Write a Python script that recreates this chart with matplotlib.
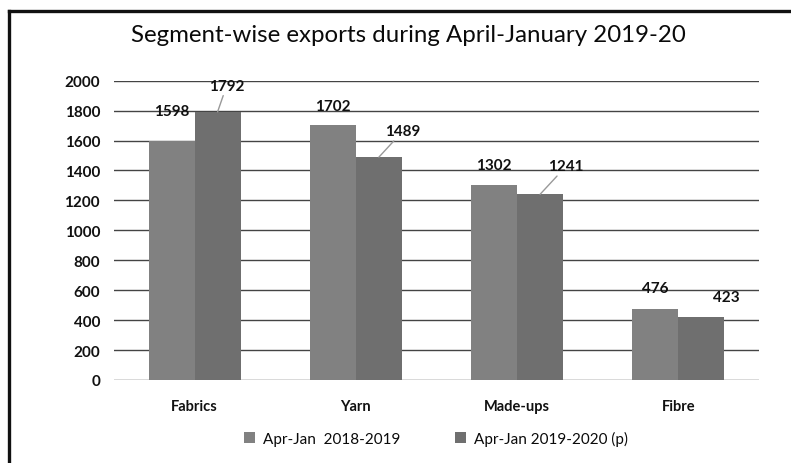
import matplotlib
matplotlib.use("Agg")
import matplotlib.pyplot as plt
from matplotlib.lines import Line2D
import numpy as np

plt.rcParams["font.family"] = ["Lato", "DejaVu Sans"]

categories = ["Fabrics", "Yarn", "Made-ups", "Fibre"]
series_names = ["Apr-Jan  2018-2019", "Apr-Jan 2019-2020 (p)"]
exports_2018_19 = [1598, 1702, 1302, 476]
exports_2019_20 = [1792, 1489, 1241, 423]
yticks = [0, 200, 400, 600, 800, 1000, 1200, 1400, 1600, 1800, 2000]

# label offsets (pixels) from top centre of each bar, and whether a leader line is drawn
offsets_1 = [(0, 30), (0, 19), (0, 20), (0, 21)]
offsets_2 = [(9, 26), (24, 26), (26, 28), (25, 20)]
leaders_2 = [True, True, True, False]

fig = plt.figure(figsize=(7.91, 4.64), dpi=100)
ax = fig.add_axes([114 / 791, 83 / 464, 645 / 791, 299.3 / 464])

x = np.arange(len(categories))
w = 0.285
b1 = ax.bar(x - w / 2, exports_2018_19, w, color="#818181", label=series_names[0], zorder=3)
b2 = ax.bar(x + w / 2, exports_2019_20, w, color="#6f6f6f", label=series_names[1], zorder=3)

ax.set_xlim(-0.5, len(categories) - 0.5)
ax.set_ylim(0, 2000)
ax.set_yticks(yticks)
ax.set_yticklabels([str(t) for t in yticks], fontsize=11, fontweight="bold", color="#111111")
ax.set_xticks(x)
ax.set_xticklabels(categories, fontsize=10.5, fontweight="bold", color="#111111")
ax.tick_params(axis="both", length=0)
ax.tick_params(axis="y", pad=10)
ax.tick_params(axis="x", pad=14)
ax.grid(axis="y", color="#444444", linewidth=1, zorder=0)
for s in ax.spines.values():
    s.set_visible(False)

label_kw = dict(fontsize=11, fontweight="bold", color="#111111", ha="center", va="center",
                textcoords="offset pixels", zorder=5)
for xi, v, off in zip(x - w / 2, exports_2018_19, offsets_1):
    ax.annotate(str(v), xy=(xi, v), xytext=off, **label_kw)
for xi, v, off, lead in zip(x + w / 2, exports_2019_20, offsets_2, leaders_2):
    arrow = dict(arrowstyle="-", color="#999999", lw=1, shrinkA=0, shrinkB=0) if lead else None
    ax.annotate(str(v), xy=(xi, v), xytext=off, arrowprops=arrow, **label_kw)

fig.text(408 / 791, 1 - 36 / 464, "Segment-wise exports during April-January 2019-20",
         ha="center", va="center", fontsize=17.3, color="#0a0a0a")

fig.legend(handles=[b1, b2], labels=series_names, loc="center", bbox_to_anchor=(436 / 791, 1 - 439 / 464),
           ncol=2, frameon=False, fontsize=11, handlelength=0.7, handleheight=0.7,
           columnspacing=3.6, handletextpad=0.5, labelcolor="#0a0a0a")

# chart border (left and top visible)
fig.add_artist(Line2D([9 / 791, 9 / 791], [0, 1 - 11.5 / 464], color="#111111", lw=2.4,
                      transform=fig.transFigure, solid_capstyle="projecting"))
fig.add_artist(Line2D([9 / 791, 1], [1 - 11.5 / 464, 1 - 11.5 / 464], color="#111111", lw=2.4,
                      transform=fig.transFigure, solid_capstyle="projecting"))

fig.savefig("out.png", dpi=100)
